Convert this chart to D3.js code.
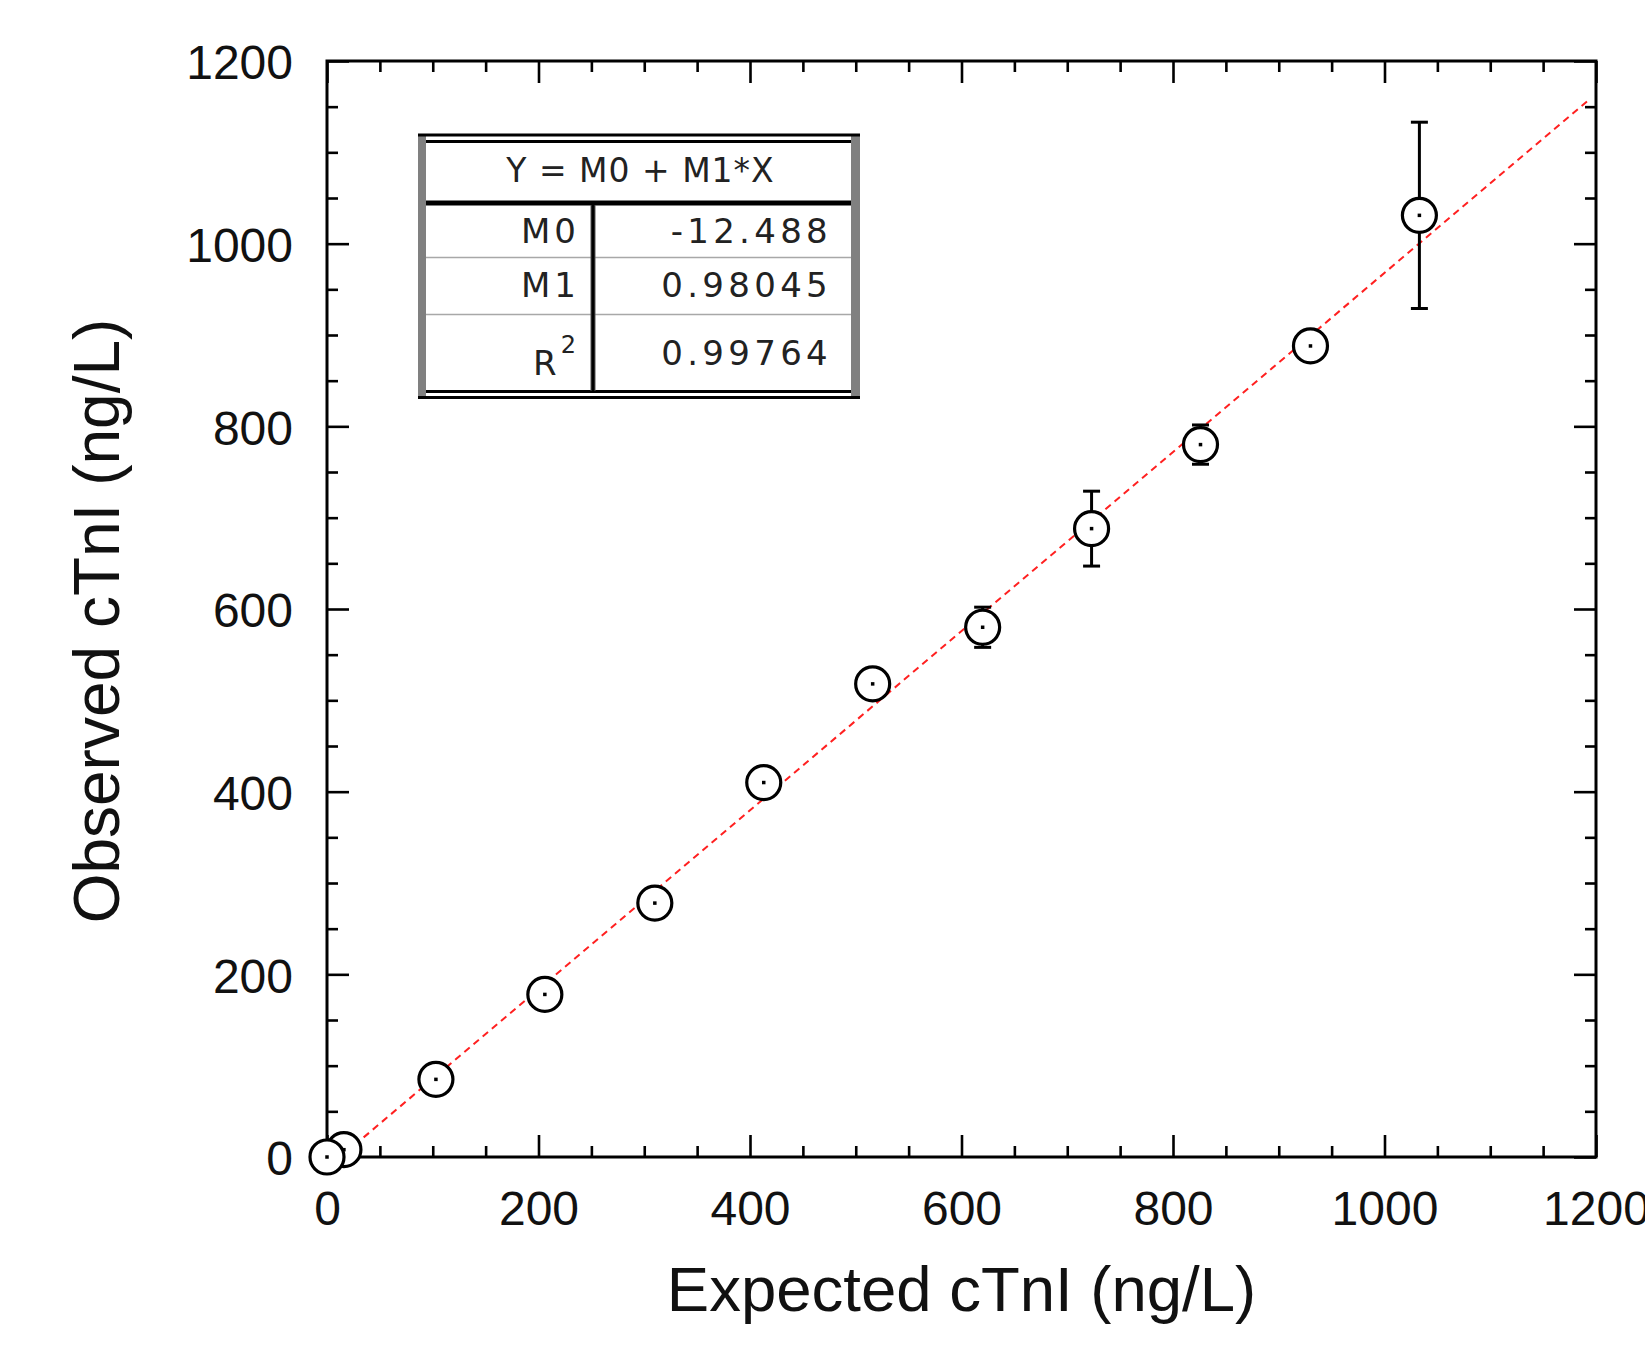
<!DOCTYPE html>
<html>
<head>
<meta charset="utf-8">
<script src="https://cdn.jsdelivr.net/npm/d3@7/dist/d3.min.js"></script>
<style>
  html, body { margin: 0; padding: 0; background: #fff; }
  svg { display: block; }
</style>
</head>
<body>
<div id="chart"></div>
<script>
// ---- data ----
const EXPECTED = [0, 16, 103, 206, 310, 413, 516, 620, 723, 826, 930, 1033];
const OBSERVED = [0, 8, 85, 178, 278, 410, 518, 580, 688, 780, 888, 1031];
const SD       = [null, null, null, null, null, null, null, 22, 41, 21.5, null, 102];

const MAJOR_TICKS = [0, 200, 400, 600, 800, 1000, 1200];
const MINOR_TICKS = d3.range(0, 1201, 50).filter(v => v % 200 !== 0);

// linear fit shown in the box
const FIT_M0 = -12.488;
const FIT_M1 = 0.98045;
const FIT_HEADER = 'Y = M0 + M1*X';
const FIT_LABELS = ['M0', 'M1', 'R'];
const FIT_VALUES = ['-12.488', '0.98045', '0.99764'];

const X_TITLE = 'Expected cTnI (ng/L)';
const Y_TITLE = 'Observed cTnI (ng/L)';

(function () {
  'use strict';

  const W = 1645, H = 1354;
  const plot = { left: 327, right: 1596, top: 61, bottom: 1157 };
  const FONT = "'Liberation Sans', Arial, Helvetica, sans-serif";
  const TABLE_FONT = "'DejaVu Sans', Verdana, sans-serif";

  const svg = d3.select('#chart').append('svg')
    .attr('width', W).attr('height', H)
    .attr('viewBox', `0 0 ${W} ${H}`);

  const x = d3.scaleLinear().domain([0, 1200]).range([plot.left, plot.right]);
  const y = d3.scaleLinear().domain([0, 1200]).range([plot.bottom, plot.top]);

  svg.append('defs').append('clipPath').attr('id', 'plot-clip')
    .append('rect')
      .attr('x', plot.left).attr('y', plot.top)
      .attr('width', plot.right - plot.left)
      .attr('height', plot.bottom - plot.top);

  // ---- axes: inward ticks on all four sides ----
  function styleAxis(g) {
    g.select('.domain').remove();
    g.selectAll('.tick line').attr('stroke', '#000').attr('stroke-width', 2.6);
    g.selectAll('.tick text')
      .attr('fill', '#111')
      .attr('font-family', FONT)
      .attr('font-size', 48);
  }

  const axes = [
    { axis: d3.axisBottom(x), t: `translate(0,${plot.bottom})`, labels: true },
    { axis: d3.axisLeft(y),   t: `translate(${plot.left},0)`,   labels: true, dy: '0.37em' },
    { axis: d3.axisTop(x),    t: `translate(0,${plot.top})`,    labels: false },
    { axis: d3.axisRight(y),  t: `translate(${plot.right},0)`,  labels: false },
  ];

  axes.forEach(a => {
    // major
    const major = a.axis.tickValues(MAJOR_TICKS).tickSize(-22);
    if (a.labels) {
      major.tickPadding(34).tickFormat(d3.format('d'));
    } else {
      major.tickFormat('');
    }
    const g = svg.append('g').attr('transform', a.t).call(major).call(styleAxis);
    if (a.dy) g.selectAll('.tick text').attr('dy', a.dy);
    // minor
    const minor = a.axis.tickValues(MINOR_TICKS).tickSize(-11).tickFormat('');
    svg.append('g').attr('transform', a.t).call(minor).call(styleAxis);
  });

  // frame
  svg.append('rect')
    .attr('x', plot.left).attr('y', plot.top)
    .attr('width', plot.right - plot.left)
    .attr('height', plot.bottom - plot.top)
    .attr('fill', 'none')
    .attr('stroke', '#000')
    .attr('stroke-width', 3);

  // ---- regression line ----
  const fitLine = d3.line().x(d => x(d)).y(d => y(FIT_M0 + FIT_M1 * d));
  svg.append('path')
    .datum([0, 1193])
    .attr('clip-path', 'url(#plot-clip)')
    .attr('d', fitLine)
    .attr('fill', 'none')
    .attr('stroke', '#ff2020')
    .attr('stroke-width', 2)
    .attr('stroke-dasharray', '7,5');

  // ---- points ----
  const pts = EXPECTED.map((e, i) => ({ e, o: OBSERVED[i], sd: SD[i] })).reverse();

  const errs = svg.append('g').selectAll('g')
    .data(pts.filter(d => d.sd != null))
    .join('g')
    .attr('stroke', '#000')
    .attr('stroke-width', 3);

  errs.append('line')
    .attr('x1', d => x(d.e)).attr('x2', d => x(d.e))
    .attr('y1', d => y(d.o - d.sd)).attr('y2', d => y(d.o + d.sd));
  errs.append('line')
    .attr('x1', d => x(d.e) - 8.5).attr('x2', d => x(d.e) + 8.5)
    .attr('y1', d => y(d.o + d.sd)).attr('y2', d => y(d.o + d.sd));
  errs.append('line')
    .attr('x1', d => x(d.e) - 8.5).attr('x2', d => x(d.e) + 8.5)
    .attr('y1', d => y(d.o - d.sd)).attr('y2', d => y(d.o - d.sd));

  const marks = svg.append('g').selectAll('g')
    .data(pts)
    .join('g')
    .attr('transform', d => `translate(${x(d.e)},${y(d.o)})`);

  marks.append('circle')
    .attr('r', 17)
    .attr('fill', '#fff')
    .attr('stroke', '#000')
    .attr('stroke-width', 3.2);

  marks.append('rect')
    .attr('x', -1.75).attr('y', -1.75)
    .attr('width', 3.5).attr('height', 3.5)
    .attr('fill', '#000');

  // ---- axis titles ----
  svg.append('text')
    .attr('x', (plot.left + plot.right) / 2)
    .attr('y', 1311)
    .attr('text-anchor', 'middle')
    .attr('font-family', FONT)
    .attr('font-size', 63.5)
    .attr('fill', '#111')
    .text(X_TITLE);

  svg.append('text')
    .attr('transform', `translate(119,621) rotate(-90)`)
    .attr('text-anchor', 'middle')
    .attr('font-family', FONT)
    .attr('font-size', 64)
    .attr('fill', '#111')
    .text(Y_TITLE);

  // ---- fit results box ----
  const box = svg.append('g').attr('class', 'fit-box');
  const bx0 = 418, bx1 = 860, by0 = 135, by1 = 397.5;
  const ix0 = 426, ix1 = 851;
  const colX = 593;
  const rowLines = [257.5, 314.5];

  box.append('rect')
    .attr('x', bx0).attr('y', by0).attr('width', bx1 - bx0).attr('height', by1 - by0)
    .attr('fill', '#fff');
  // grey side bars
  box.append('rect').attr('x', bx0).attr('y', by0).attr('width', ix0 - bx0).attr('height', by1 - by0).attr('fill', '#808080');
  box.append('rect').attr('x', ix1).attr('y', by0).attr('width', bx1 - ix1).attr('height', by1 - by0).attr('fill', '#808080');
  // outer and inner horizontal borders
  [[by0, bx0, bx1], [141.5, ix0, ix1], [391.5, ix0, ix1], [by1, bx0, bx1]].forEach(([yy, a, b]) => {
    box.append('line').attr('x1', a).attr('x2', b).attr('y1', yy).attr('y2', yy)
      .attr('stroke', '#000').attr('stroke-width', 3);
  });
  // header rule
  box.append('line').attr('x1', ix0).attr('x2', ix1).attr('y1', 203).attr('y2', 203)
    .attr('stroke', '#000').attr('stroke-width', 5);
  // row separators
  rowLines.forEach(yy => {
    box.append('line').attr('x1', ix0).attr('x2', ix1).attr('y1', yy).attr('y2', yy)
      .attr('stroke', '#a8a8a8').attr('stroke-width', 1.6);
  });
  // column divider
  box.append('line').attr('x1', colX).attr('x2', colX).attr('y1', 205).attr('y2', 391)
    .attr('stroke', '#555').attr('stroke-width', 5);
  box.append('line').attr('x1', colX).attr('x2', colX).attr('y1', 205).attr('y2', 391)
    .attr('stroke', '#000').attr('stroke-width', 3);

  box.append('text')
    .attr('x', (ix0 + ix1) / 2 + 2).attr('y', 182)
    .attr('text-anchor', 'middle')
    .attr('font-family', TABLE_FONT)
    .attr('font-size', 33)
    .attr('letter-spacing', 1)
    .attr('fill', '#222')
    .text(FIT_HEADER);

  const labelBase = [243, 297, 375];
  const valueBase = [243, 297, 365];

  FIT_LABELS.forEach((lab, i) => {
    const t = box.append('text')
      .attr('x', 580).attr('y', labelBase[i])
      .attr('text-anchor', 'end')
      .attr('font-family', TABLE_FONT)
      .attr('font-size', 34)
      .attr('letter-spacing', 4)
      .attr('fill', '#222');
    t.append('tspan').text(lab);
    if (lab === 'R') {
      t.append('tspan').attr('dy', -22).attr('font-size', 24).text('2');
    }
  });

  FIT_VALUES.forEach((v, i) => {
    box.append('text')
      .attr('x', 832).attr('y', valueBase[i])
      .attr('text-anchor', 'end')
      .attr('font-family', TABLE_FONT)
      .attr('font-size', 34)
      .attr('letter-spacing', 4.3)
      .attr('fill', '#222')
      .text(v);
  });
})();
</script>
</body>
</html>
